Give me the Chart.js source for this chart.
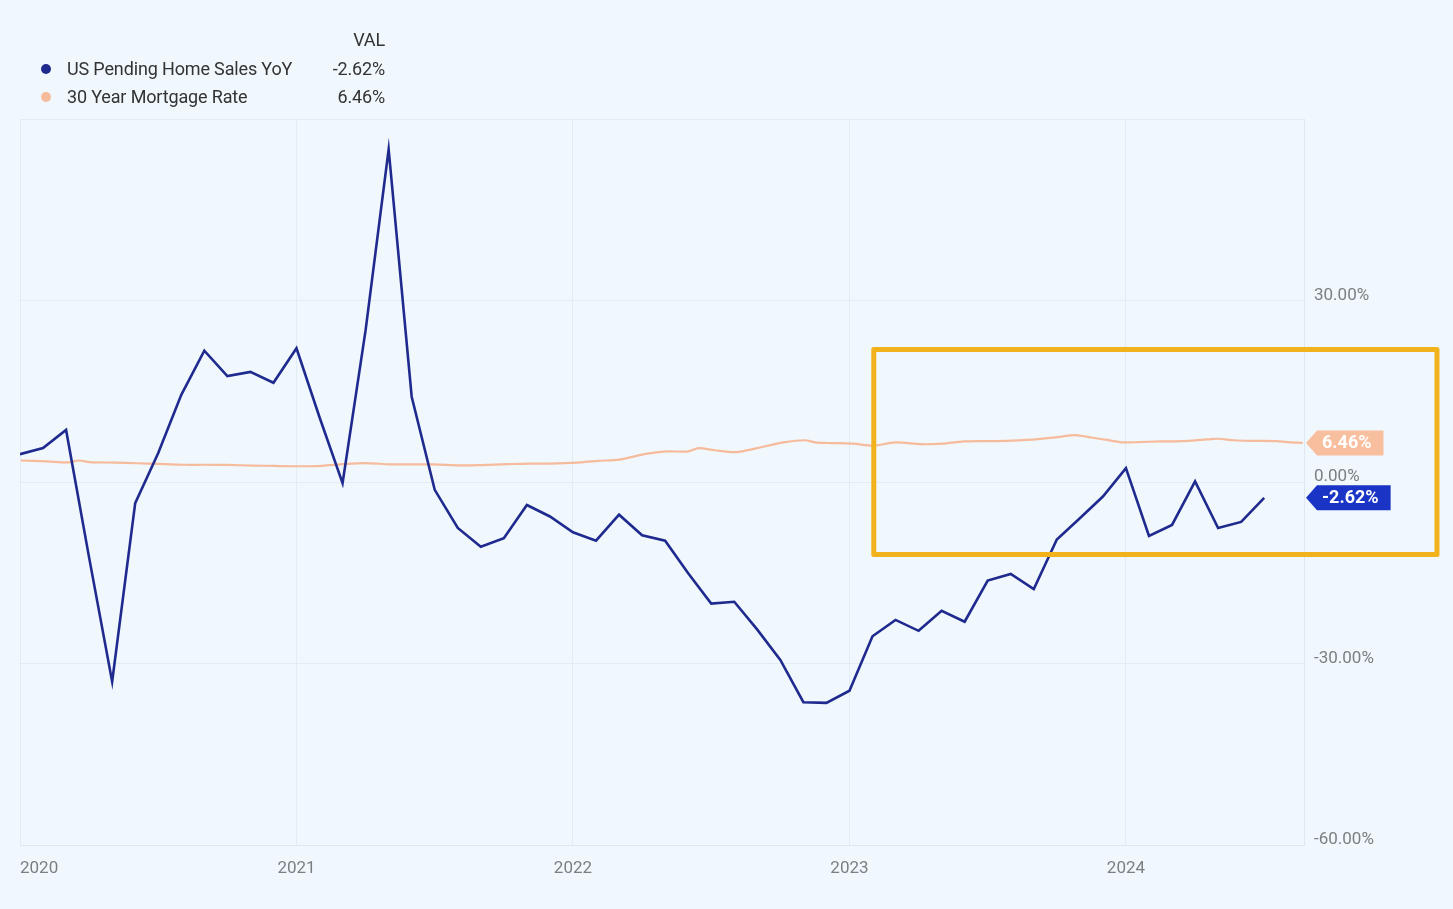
<!DOCTYPE html>
<html>
<head>
<meta charset="utf-8">
<script src="https://cdn.jsdelivr.net/npm/chart.js@4.4.1/dist/chart.umd.min.js"></script>
<style>
  html, body { margin: 0; padding: 0; background: #f0f7fd; }
  #wrap { position: relative; width: 1453px; height: 909px; overflow: hidden; }
  #chart { position: absolute; left: 0; top: 0; }
  .lg { position: absolute; font-family: Roboto, "Noto Sans", sans-serif; color: #333; font-size: 18px; line-height: 20px; white-space: nowrap; letter-spacing: -0.15px; }
  .dot { position: absolute; width: 10px; height: 10px; border-radius: 50%; }
  .val { text-align: right; width: 100px; }
</style>
</head>
<body>
<div id="wrap">
  <canvas id="chart" width="1453" height="909"></canvas>
  <div class="lg val" style="left:285px; top:30px;">VAL</div>
  <div class="dot" style="left:41px; top:64px; background:#1f2a8f;"></div>
  <div class="lg" style="left:67px; top:59px;">US Pending Home Sales YoY</div>
  <div class="lg val" style="left:285px; top:59px;">-2.62%</div>
  <div class="dot" style="left:41px; top:92px; background:#f6bb9b;"></div>
  <div class="lg" style="left:67px; top:87px;">30 Year Mortgage Rate</div>
  <div class="lg val" style="left:285px; top:87px;">6.46%</div>
</div>
<script>
// monthly pending home sales, year over year change (%)
const salesMonths = [
  "2019-12",
  "2020-01", "2020-02", "2020-03", "2020-04", "2020-05", "2020-06",
  "2020-07", "2020-08", "2020-09", "2020-10", "2020-11", "2020-12",
  "2021-01", "2021-02", "2021-03", "2021-04", "2021-05", "2021-06",
  "2021-07", "2021-08", "2021-09", "2021-10", "2021-11", "2021-12",
  "2022-01", "2022-02", "2022-03", "2022-04", "2022-05", "2022-06",
  "2022-07", "2022-08", "2022-09", "2022-10", "2022-11", "2022-12",
  "2023-01", "2023-02", "2023-03", "2023-04", "2023-05", "2023-06",
  "2023-07", "2023-08", "2023-09", "2023-10", "2023-11", "2023-12",
  "2024-01", "2024-02", "2024-03", "2024-04", "2024-05", "2024-06"
];
const salesYoY = [
  4.6,
  5.6, 8.6, -12.5, -33.0, -3.5, 4.8,
  14.4, 21.7, 17.5, 18.2, 16.4, 22.1,
  10.7, -0.2, 25.1, 55.0, 14.1, -1.3,
  -7.6, -10.7, -9.3, -3.8, -5.7, -8.3,
  -9.7, -5.4, -8.8, -9.7, -15.1, -20.1,
  -19.8, -24.4, -29.4, -36.4, -36.5, -34.5,
  -25.5, -22.8, -24.6, -21.3, -23.1, -16.3,
  -15.2, -17.7, -9.5, -6.0, -2.4, 2.3,
  -8.9, -7.1, 0.1, -7.6, -6.6, -2.62
];

// 30 year mortgage rate (%), sampled dates
const rateDates = [
  "2020-01-02", "2020-02-06", "2020-03-05", "2020-03-19", "2020-04-02", "2020-05-07",
  "2020-06-04", "2020-07-02", "2020-08-06", "2020-09-03", "2020-10-01", "2020-11-05",
  "2020-12-03", "2021-01-07", "2021-02-04", "2021-03-04", "2021-04-01", "2021-05-06",
  "2021-06-03", "2021-07-01", "2021-08-05", "2021-09-02", "2021-10-07", "2021-11-04",
  "2021-12-02", "2022-01-06", "2022-02-03", "2022-03-03", "2022-04-07", "2022-05-05",
  "2022-06-02", "2022-06-16", "2022-07-07", "2022-08-04", "2022-09-01", "2022-10-06",
  "2022-11-03", "2022-11-17", "2022-12-01", "2023-01-05", "2023-02-02", "2023-03-02",
  "2023-04-06", "2023-05-04", "2023-06-01", "2023-07-06", "2023-08-03", "2023-09-07",
  "2023-10-05", "2023-10-26", "2023-11-16", "2023-12-07", "2023-12-28", "2024-01-18",
  "2024-02-15", "2024-03-14", "2024-04-18", "2024-05-02", "2024-05-23", "2024-06-20",
  "2024-07-18", "2024-08-01", "2024-08-22"
];
const mortgageRate = [
  3.55, 3.40, 3.25, 3.55, 3.30, 3.20,
  3.10, 2.98, 2.85, 2.85, 2.82, 2.72,
  2.65, 2.60, 2.68, 2.95, 3.12, 2.92,
  2.92, 2.92, 2.75, 2.80, 2.95, 3.05,
  3.05, 3.20, 3.50, 3.70, 4.65, 5.05,
  5.05, 5.60, 5.25, 4.95, 5.60, 6.55,
  6.90, 6.55, 6.45, 6.35, 6.00, 6.55,
  6.25, 6.35, 6.70, 6.75, 6.85, 7.10,
  7.45, 7.75, 7.35, 6.95, 6.55, 6.60,
  6.70, 6.75, 7.05, 7.15, 6.90, 6.80,
  6.75, 6.60, 6.46
];

const yearTicks = [2020, 2021, 2022, 2023, 2024];
const yTicks = [-60, -30, 0, 30, 60];
const xMin = 2020, xMax = 2024.644;

// highlight box, in data units: [x0, x1, yTop, yBottom]
const highlight = [2023.088, 2025.125, 21.9, -12.0];

function monthEnd(s) {
  const [y, m] = s.split("-").map(Number);
  return y + m / 12;
}
function dateToYear(s) {
  const [y, m, d] = s.split("-").map(Number);
  const start = Date.UTC(y, 0, 1), end = Date.UTC(y + 1, 0, 1);
  return y + (Date.UTC(y, m - 1, d) - start) / (end - start);
}

const salesPoints = salesMonths.map((m, i) => ({ x: monthEnd(m), y: salesYoY[i] }));
const ratePoints = rateDates.map((d, i) => ({ x: dateToYear(d), y: mortgageRate[i] }));

const endTags = {
  id: "endTags",
  afterDatasetsDraw(chart) {
    const ctx = chart.ctx;
    const ys = chart.scales.y;
    const right = chart.chartArea.right;
    chart.data.datasets.forEach(ds => {
      const last = ds.data[ds.data.length - 1];
      const py = ys.getPixelForValue(last.y);
      const txt = (last.y).toFixed(2) + "%";
      ctx.save();
      ctx.font = "bold 18px Roboto";
      const w = ctx.measureText(txt).width;
      const x0 = right + 2, h = 25, tip = 11;
      const x1 = x0 + tip + w + 17;
      ctx.beginPath();
      ctx.moveTo(x0, py);
      ctx.lineTo(x0 + tip, py - h / 2);
      ctx.lineTo(x1, py - h / 2);
      ctx.lineTo(x1, py + h / 2);
      ctx.lineTo(x0 + tip, py + h / 2);
      ctx.closePath();
      ctx.fillStyle = ds.tagColor;
      ctx.fill();
      ctx.fillStyle = "#ffffff";
      ctx.textBaseline = "middle";
      ctx.textAlign = "left";
      ctx.fillText(txt, x0 + tip + 5, py + 1);
      ctx.restore();
    });
  },
  afterDraw(chart) {
    const ctx = chart.ctx;
    const xs = chart.scales.x, ys = chart.scales.y;
    const l = xs.getPixelForValue(highlight[0]);
    const r = xs.getPixelForValue(highlight[1]);
    const t = ys.getPixelForValue(highlight[2]);
    const b = ys.getPixelForValue(highlight[3]);
    ctx.save();
    ctx.strokeStyle = "#f1b21c";
    ctx.lineWidth = 5;
    ctx.lineJoin = "round";
    ctx.strokeRect(l, t, r - l, b - t);
    ctx.restore();
  }
};

new Chart(document.getElementById("chart"), {
  type: "line",
  data: {
    datasets: [
      {
        label: "US Pending Home Sales YoY",
        data: salesPoints,
        borderColor: "#1f2a8f",
        borderWidth: 2.6,
        pointRadius: 0,
        tension: 0,
        tagColor: "#1a34c6"
      },
      {
        label: "30 Year Mortgage Rate",
        data: ratePoints,
        borderColor: "#f6bb9b",
        borderWidth: 2.2,
        pointRadius: 0,
        tension: 0.3,
        tagColor: "#f8bf9f"
      }
    ]
  },
  options: {
    responsive: false,
    animation: false,
    layout: { padding: { left: 20, top: 119, right: 0, bottom: 0 } },
    plugins: { legend: { display: false }, tooltip: { enabled: false } },
    scales: {
      x: {
        type: "linear",
        min: xMin,
        max: xMax,
        afterBuildTicks(scale) {
          scale.ticks = yearTicks.map(v => ({ value: v }));
          scale.ticks.push({ value: xMax });
        },
        afterFit(scale) { scale.height = 64; },
        grid: { color: "#e3ebf4", drawTicks: false },
        border: { color: "#dfe7f0" },
        ticks: {
          align: "inner",
          padding: 14,
          color: "#7b7f84",
          font: { family: "Roboto", size: 17 },
          maxRotation: 0,
          autoSkip: false,
          callback: v => (Number.isInteger(v) ? String(v) : "")
        }
      },
      y: {
        position: "right",
        min: -60,
        max: 60,
        afterBuildTicks(scale) {
          scale.ticks = yTicks.map(v => ({ value: v }));
        },
        afterFit(scale) { scale.width = 149; },
        grid: { color: "#e3ebf4", drawTicks: false },
        border: { color: "#dfe7f0" },
        ticks: {
          padding: 10,
          labelOffset: -5,
          color: "#7b7f84",
          font: { family: "Roboto", size: 17 },
          callback: v => (v === 60 ? "" : v.toFixed(2) + "%")
        }
      }
    }
  },
  plugins: [endTags]
});
</script>
</body>
</html>
